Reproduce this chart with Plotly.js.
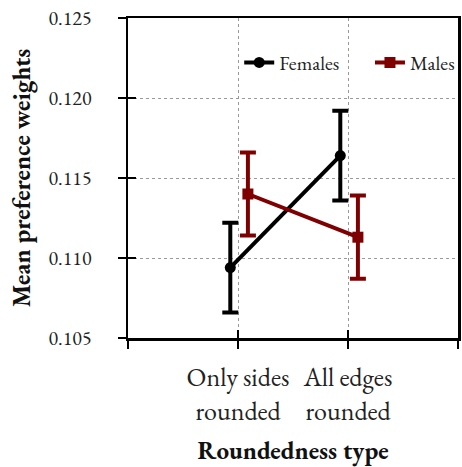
<!DOCTYPE html>
<html>
<head>
<meta charset="utf-8">
<script src="https://cdn.plot.ly/plotly-3.0.1.min.js"></script>
<style>
  html, body { margin: 0; padding: 0; background: #fff; }
  #chart { width: 462px; height: 467px; }
</style>
</head>
<body>
<div id="chart"></div>
<script>
// Roundedness categories and tick labels
const categories = ['Only sides rounded', 'All edges rounded'];
const tickLabels = ['Only sides<br>rounded', 'All edges<br>rounded'];

// Mean preference weights with error margins
const femaleMean = [0.1094, 0.1164];
const femaleErr  = [0.0028, 0.0028];
const maleMean   = [0.1140, 0.1113];
const maleErr    = [0.0026, 0.0026];

const yTicks = [0.105, 0.110, 0.115, 0.120, 0.125];

// category slots sit at 1, 2 on a 0..3 axis; series are nudged apart
const slot = categories.map((_, i) => i + 1);
const femaleX = slot.map(v => v - 0.07);
const maleX = slot.map(v => v + 0.09);

const RED = '#7f0000';
const serif = 'EB Garamond, Liberation Serif, serif';

const traces = [
  {
    name: 'Females', x: femaleX, y: femaleMean, type: 'scatter', mode: 'lines+markers',
    line: { color: '#000', width: 4 },
    marker: { color: '#000', symbol: 'circle', size: 11 },
    error_y: { type: 'data', array: femaleErr, visible: true, color: '#000', thickness: 4, width: 8 },
    legend: 'legend'
  },
  {
    name: 'Males', x: maleX, y: maleMean, type: 'scatter', mode: 'lines+markers',
    line: { color: RED, width: 4 },
    marker: { color: RED, symbol: 'square', size: 11 },
    error_y: { type: 'data', array: maleErr, visible: true, color: RED, thickness: 4, width: 8 },
    legend: 'legend2'
  },
  // invisible carrier for the inner-tick overlay axes
  { x: [0], y: [0.105], xaxis: 'x2', yaxis: 'y2', type: 'scatter', mode: 'markers',
    marker: { opacity: 0 }, showlegend: false, hoverinfo: 'skip' }
];

const legendStyle = (x) => ({
  orientation: 'h', x: x, y: 0.861, xanchor: 'left', yanchor: 'middle',
  bgcolor: 'rgba(0,0,0,0)', borderwidth: 0,
  font: { family: serif, size: 20, color: '#222' }
});

const layout = {
  width: 462, height: 467,
  margin: { l: 128, r: 3, t: 18, b: 129 },
  paper_bgcolor: '#fff', plot_bgcolor: '#fff',
  font: { family: serif, color: '#222', size: 20 },
  showlegend: true,
  legend: legendStyle(0.336),
  legend2: legendStyle(0.731),
  xaxis: {
    range: [0, 3], tickmode: 'array', tickvals: [0, 1, 2, 3],
    ticktext: ['', tickLabels[0], tickLabels[1], ''],
    tickfont: { family: serif, size: 26, color: '#222' },
    ticks: 'outside', ticklen: 8, tickwidth: 2.5, tickcolor: '#000',
    ticklabelstandoff: 6,
    showline: true, linecolor: '#000', linewidth: 2.5, mirror: true,
    showgrid: true, gridcolor: '#999', griddash: 'dot', gridwidth: 1,
    zeroline: false,
    title: { text: '<b>Roundedness type</b>', font: { family: serif, size: 25, color: '#111' }, standoff: 17 }
  },
  yaxis: {
    range: [0.105, 0.125], tickmode: 'array', tickvals: yTicks,
    ticktext: yTicks.map(v => v.toFixed(3)),
    tickfont: { family: serif, size: 20, color: '#222' },
    ticks: 'outside', ticklen: 8, tickwidth: 2.5, tickcolor: '#000',
    ticklabelstandoff: 22,
    showline: true, linecolor: '#000', linewidth: 2.5, mirror: true,
    showgrid: true, gridcolor: '#999', griddash: 'dot', gridwidth: 1,
    zeroline: false,
    title: { text: '<b>Mean preference weights</b>', font: { family: serif, size: 25, color: '#111' }, standoff: 11 }
  },
  xaxis2: {
    overlaying: 'x', anchor: 'y2', range: [0, 3], tickmode: 'array', tickvals: [0, 1, 2, 3],
    ticks: 'inside', ticklen: 8, tickwidth: 2.5, tickcolor: '#000',
    showticklabels: false, showgrid: false, showline: false, zeroline: false
  },
  yaxis2: {
    overlaying: 'y', anchor: 'x2', range: [0.105, 0.125], tickmode: 'array', tickvals: yTicks,
    ticks: 'inside', ticklen: 8, tickwidth: 2.5, tickcolor: '#000',
    showticklabels: false, showgrid: false, showline: false, zeroline: false
  }
};

Plotly.newPlot('chart', traces, layout, { displayModeBar: false, staticPlot: true });
</script>
</body>
</html>
